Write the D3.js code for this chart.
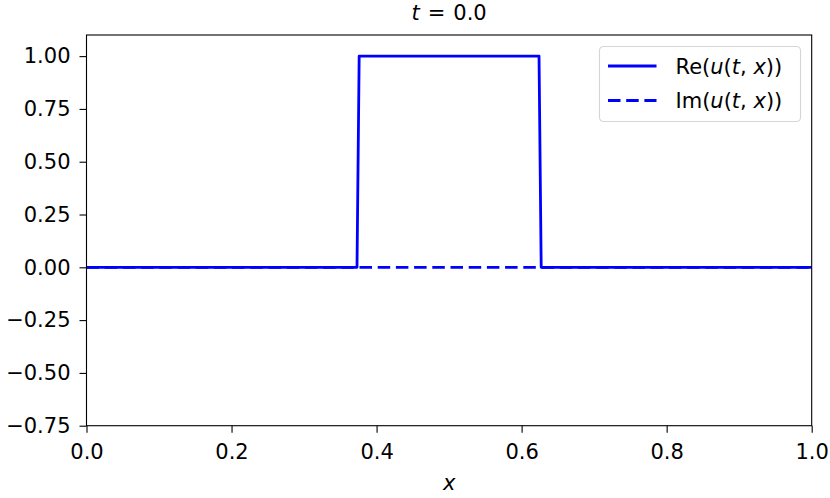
<!DOCTYPE html>
<html lang="en">
<head>
<meta charset="utf-8">
<script src="https://d3js.org/d3.v7.min.js"></script>
<style type="text/css">
body {
	margin: 0;
	background: white;
	font-family: "DejaVu Sans", sans-serif;
}
.tick text {
	font-family: "DejaVu Sans", sans-serif;
	font-size: 21px;
	fill: black;
}
</style>
</head>
<body>
<script type="text/javascript">

// Data
var xVals  = [0, 0.373, 0.376, 0.624, 0.627, 1];
var reVals = [0, 0, 1, 1, 0, 0];
var imVals = [0, 0, 0, 0, 0, 0];
var xTicks = [0, 0.2, 0.4, 0.6, 0.8, 1.0];
var yTicks = [-0.75, -0.5, -0.25, 0, 0.25, 0.5, 0.75, 1.0];
var legendText = ["Re", "Im"];

var width = 830;
var height = 498;
var margin = {left: 86.5, right: 18.3, top: 35, bottom: 72.3};
var dash = "12.5,5.7";

var svg = d3.select("body")
			.append("svg")
			.attr("width", width)
			.attr("height", height);

var x = d3.scaleLinear()
		  .domain([0, 1])
		  .range([margin.left, width - margin.right]);

var y = d3.scaleLinear()
		  .domain([-0.75, 1.1])
		  .range([height - margin.bottom, margin.top]);

// axes
var xAxis = d3.axisBottom(x)
			  .tickValues(xTicks)
			  .tickFormat(d3.format(".1f"))
			  .tickSizeOuter(0)
			  .tickSize(7)
			  .tickPadding(11);

var yAxis = d3.axisLeft(y)
			  .tickValues(yTicks)
			  .tickFormat(function(d) { return d3.format(".2f")(d).replace("-", "\u2212"); })
			  .tickSizeOuter(0)
			  .tickSize(7)
			  .tickPadding(9);

var gx = svg.append("g")
			.attr("transform", "translate(0," + (height - margin.bottom) + ")")
			.call(xAxis);

var gy = svg.append("g")
			.attr("transform", "translate(" + margin.left + ",0)")
			.call(yAxis);

svg.selectAll(".domain").remove();
svg.selectAll(".tick line").attr("stroke", "black").attr("stroke-width", 1.1);

// lines
var pts = xVals.map(function(d, i) { return {x: d, re: reVals[i], im: imVals[i]}; });

var reLine = d3.line()
			   .x(function(d) { return x(d.x); })
			   .y(function(d) { return y(d.re); });

var imLine = d3.line()
			   .x(function(d) { return x(d.x); })
			   .y(function(d) { return y(d.im); });

var plot = svg.append("g");

plot.append("path")
	.datum(pts)
	.attr("d", reLine)
	.attr("fill", "none")
	.attr("stroke", "#0000ff")
	.attr("stroke-width", 2.8)
	.attr("stroke-linejoin", "round");

plot.append("path")
	.datum(pts)
	.attr("d", imLine)
	.attr("fill", "none")
	.attr("stroke", "#0000ff")
	.attr("stroke-width", 2.8)
	.attr("stroke-dasharray", dash);

// frame
svg.append("rect")
   .attr("x", margin.left)
   .attr("y", margin.top)
   .attr("width", width - margin.left - margin.right)
   .attr("height", height - margin.top - margin.bottom)
   .attr("fill", "none")
   .attr("stroke", "black")
   .attr("stroke-width", 1.1);

// title
var title = svg.append("text")
			   .attr("x", (margin.left + width - margin.right) / 2)
			   .attr("y", 20)
			   .attr("text-anchor", "middle")
			   .style("font-size", "21px");
title.append("tspan").style("font-style", "italic").text("t");
title.append("tspan").attr("dx", 8).text("=");
title.append("tspan").attr("dx", 8).text("0.0");

// x label
svg.append("text")
   .attr("x", (margin.left + width - margin.right) / 2)
   .attr("y", 490)
   .attr("text-anchor", "middle")
   .style("font-size", "21px")
   .style("font-style", "italic")
   .text("x");

// legend
var legend = svg.append("g")
				.attr("transform", "translate(599.5,46.5)");

legend.append("rect")
	  .attr("width", 201)
	  .attr("height", 75)
	  .attr("rx", 4)
	  .attr("fill", "white")
	  .attr("fill-opacity", 0.8)
	  .attr("stroke", "#d5d5d5")
	  .attr("stroke-width", 1.1);

var item = legend.selectAll("g")
				 .data(legendText)
				 .enter()
				 .append("g")
				 .attr("transform", function(d, i) { return "translate(0," + (19.5 + i * 34.5) + ")"; });

item.append("line")
	.attr("x1", 8.5)
	.attr("x2", 57)
	.attr("stroke", "#0000ff")
	.attr("stroke-width", 2.8)
	.attr("stroke-dasharray", function(d, i) { return i == 1 ? dash : null; });

var lt = item.append("text")
			 .attr("x", 76)
			 .attr("y", 7.5)
			 .style("font-size", "21px");
lt.append("tspan").text(function(d) { return d + "("; });
lt.append("tspan").style("font-style", "italic").text("u");
lt.append("tspan").text("(");
lt.append("tspan").style("font-style", "italic").text("t");
lt.append("tspan").text(", ");
lt.append("tspan").style("font-style", "italic").text("x");
lt.append("tspan").text("))");

</script>
</body>
</html>
